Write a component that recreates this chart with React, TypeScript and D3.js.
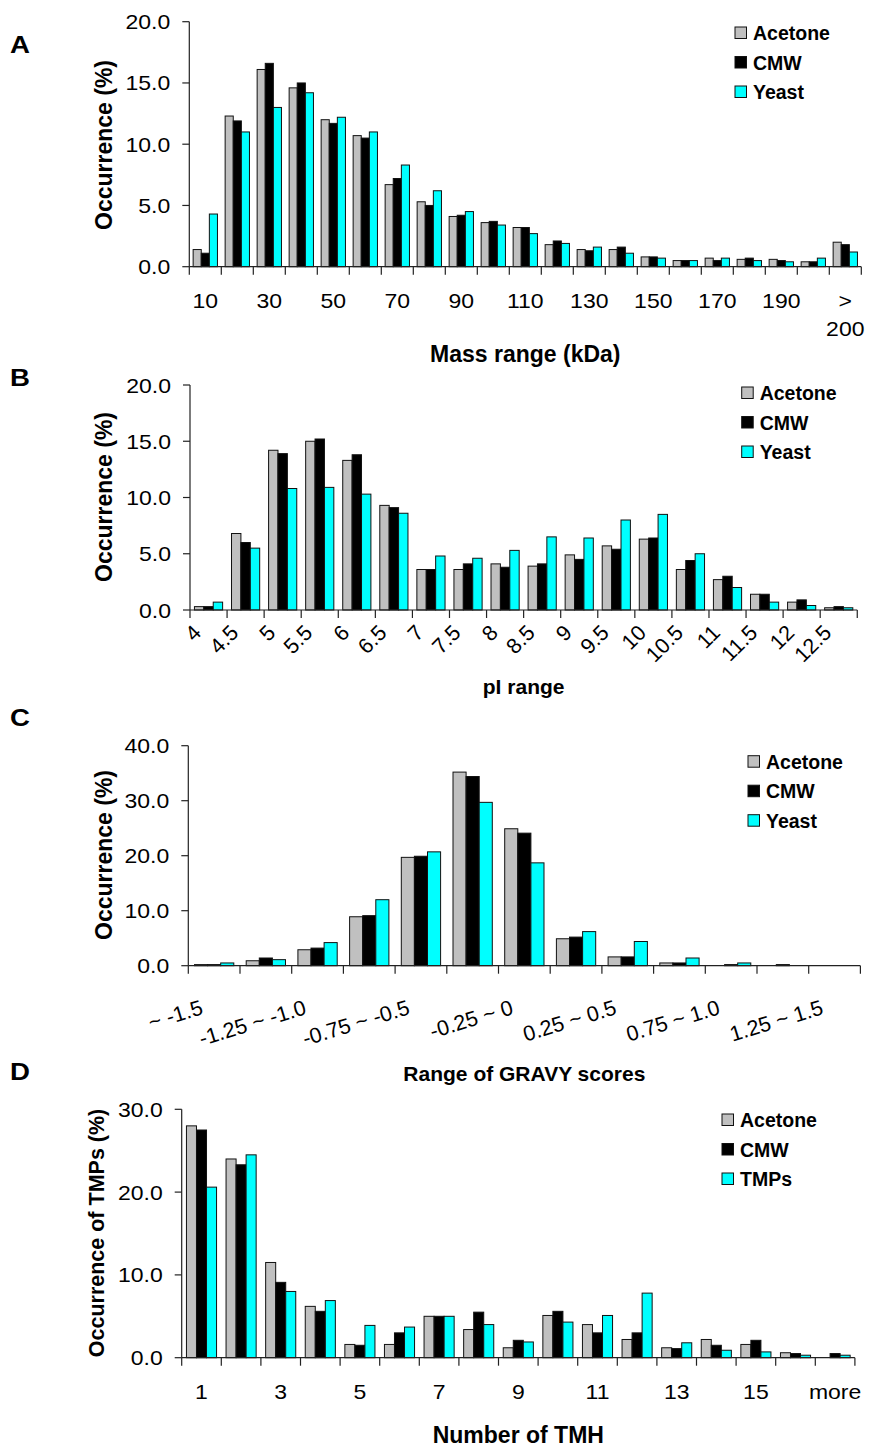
import React from "react";
import * as d3 from "d3";

// ---------- DATA ----------
const seriesNamesABC = ["Acetone", "CMW", "Yeast"];
const seriesNamesD = ["Acetone", "CMW", "TMPs"];

const massCategories = ["10","20","30","40","50","60","70","80","90","100","110","120","130","140","150","160","170","180","190","200","> 200"];
const massAcetone = [1.4,12.3,16.1,14.6,12.0,10.7,6.7,5.3,4.1,3.6,3.2,1.8,1.4,1.4,0.8,0.5,0.7,0.6,0.6,0.4,2.0];
const massCMW =     [1.1,11.9,16.6,15.0,11.7,10.5,7.2,5.0,4.2,3.7,3.2,2.1,1.3,1.6,0.8,0.5,0.5,0.7,0.5,0.4,1.8];
const massYeast =   [4.3,11.0,13.0,14.2,12.2,11.0,8.3,6.2,4.5,3.4,2.7,1.9,1.6,1.1,0.7,0.5,0.7,0.5,0.4,0.7,1.2];

const piCategories = ["4","4.5","5","5.5","6","6.5","7","7.5","8","8.5","9","9.5","10","10.5","11","11.5","12","12.5"];
const piAcetone = [0.3,6.8,14.2,15.0,13.3,9.3,3.6,3.6,4.1,3.9,4.9,5.7,6.3,3.6,2.7,1.4,0.7,0.2];
const piCMW =     [0.3,6.0,13.9,15.2,13.8,9.1,3.6,4.1,3.8,4.1,4.5,5.4,6.4,4.4,3.0,1.4,0.9,0.3];
const piYeast =   [0.7,5.5,10.8,10.9,10.3,8.6,4.8,4.6,5.3,6.5,6.4,8.0,8.5,5.0,2.0,0.7,0.4,0.2];

const gravyCategories = ["~ -1.5","-1.5 ~ -1.25","-1.25 ~ -1.0","-1.0 ~ -0.75","-0.75 ~ -0.5","-0.5 ~ -0.25","-0.25 ~ 0","0 ~ 0.25","0.25 ~ 0.5","0.5 ~ 0.75","0.75 ~ 1.0","1.0 ~ 1.25","1.25 ~ 1.5"];
const gravyAcetone = [0.2,0.9,2.9,8.9,19.7,35.2,24.9,4.9,1.6,0.5,0,0,0];
const gravyCMW =     [0.2,1.4,3.2,9.1,19.9,34.4,24.1,5.2,1.6,0.5,0.2,0.2,0];
const gravyYeast =   [0.5,1.1,4.2,12.0,20.7,29.7,18.7,6.2,4.4,1.4,0.5,0,0];

const tmhCategories = ["1","2","3","4","5","6","7","8","9","10","11","12","13","14","15","16","more"];
const tmhAcetone = [28.0,24.0,11.5,6.2,1.6,1.6,5.0,3.4,1.2,5.1,4.0,2.2,1.2,2.2,1.6,0.6,0];
const tmhCMW =     [27.5,23.3,9.1,5.6,1.5,3.0,5.0,5.5,2.1,5.6,3.0,3.0,1.1,1.5,2.1,0.5,0.5];
const tmhTMPs =    [20.6,24.5,8.0,6.9,3.9,3.7,5.0,4.0,1.9,4.3,5.1,7.8,1.8,0.9,0.7,0.3,0.3];

// ---------- STYLE ----------
const FONT = "'Liberation Sans', Arial, Helvetica, sans-serif";
const COLORS = ["#C0C0C0", "#000000", "#00FFFF"];
const AXIS = "#222";
const SX = 1.15; // horizontal stretch of the reference text

type Spec = {
  letter: string;
  letterY: number;
  categories: string[];
  series: number[][];
  names: string[];
  x0: number;
  band: number;
  yZero: number;
  yTop: number;
  yMax: number;
  yTickCount: number;
  yTitle: string;
  yTitleY: number;
  yTitleSize: number;
  xTitle: string;
  xTitleY: number;
  xTitleSize: number;
  every: number;
  angle: number;
  labelDx: number;
  labelDy: number;
  wrap: boolean;
  legendX: number;
  legendY: number;
};

const specs: Spec[] = [
  {
    letter: "A", letterY: 53, categories: massCategories, series: [massAcetone, massCMW, massYeast], names: seriesNamesABC,
    x0: 189.3, band: 32, yZero: 266.7, yTop: 21.7, yMax: 20, yTickCount: 4,
    yTitle: "Occurrence (%)", yTitleY: 145, yTitleSize: 23, xTitle: "Mass range (kDa)", xTitleY: 362, xTitleSize: 23,
    every: 2, angle: 0, labelDx: 0, labelDy: 41, wrap: true, legendX: 735, legendY: 33,
  },
  {
    letter: "B", letterY: 386, categories: piCategories, series: [piAcetone, piCMW, piYeast], names: seriesNamesABC,
    x0: 190, band: 37.07, yZero: 610, yTop: 385, yMax: 20, yTickCount: 4,
    yTitle: "Occurrence (%)", yTitleY: 497, yTitleSize: 23, xTitle: "pI range", xTitleY: 694, xTitleSize: 21,
    every: 1, angle: -45, labelDx: -6, labelDy: 24, wrap: false, legendX: 741.7, legendY: 393,
  },
  {
    letter: "C", letterY: 726, categories: gravyCategories, series: [gravyAcetone, gravyCMW, gravyYeast], names: seriesNamesABC,
    x0: 188.3, band: 51.7, yZero: 965.7, yTop: 745.7, yMax: 40, yTickCount: 4,
    yTitle: "Occurrence (%)", yTitleY: 855, yTitleSize: 23, xTitle: "Range of GRAVY scores", xTitleY: 1081, xTitleSize: 21,
    every: 2, angle: -17, labelDx: -10, labelDy: 48, wrap: false, legendX: 748, legendY: 761.7,
  },
  {
    letter: "D", letterY: 1080, categories: tmhCategories, series: [tmhAcetone, tmhCMW, tmhTMPs], names: seriesNamesD,
    x0: 181.7, band: 39.6, yZero: 1357.7, yTop: 1109.3, yMax: 30, yTickCount: 3,
    yTitle: "Occurrence of TMPs (%)", yTitleY: 1233, yTitleSize: 21.5, xTitle: "Number of TMH", xTitleY: 1443, xTitleSize: 23,
    every: 2, angle: 0, labelDx: 0, labelDy: 41, wrap: false, legendX: 722, legendY: 1120,
  },
];

function Panel({ p }: { p: Spec }) {
  const n = p.categories.length;
  const x = d3
    .scaleBand<string>()
    .domain(p.categories)
    .range([p.x0, p.x0 + p.band * n])
    .paddingInner(0.24)
    .paddingOuter(0.12);
  const xs = d3.scaleBand<number>().domain([0, 1, 2]).range([0, x.bandwidth()]);
  const y = d3.scaleLinear().domain([0, p.yMax]).range([p.yZero, p.yTop]);
  const yTicks = y.ticks(p.yTickCount);
  const fmt = d3.format(".1f");
  const step = x.step();
  const x1 = p.x0 + step * n;
  const boundaries = d3.range(n + 1).map((i) => p.x0 + i * step);
  const center = (c: string) => (x(c) as number) + x.bandwidth() / 2;

  return (
    <g>
      {/* panel letter */}
      <text x={0} y={0} transform={`translate(10,${p.letterY}) scale(1.2,1)`} fontFamily={FONT} fontWeight="bold" fontSize={23}>
        {p.letter}
      </text>

      {/* bars */}
      {p.series.map((vals, si) =>
        vals.map((v, i) => {
          const c = p.categories[i];
          const bx = (x(c) as number) + (xs(si) as number);
          const by = y(v);
          const h = p.yZero - by;
          if (v <= 0) return null;
          return (
            <rect
              key={`${si}-${i}`}
              x={bx}
              y={by}
              width={xs.bandwidth()}
              height={h}
              fill={COLORS[si]}
              stroke="#111"
              strokeWidth={1}
            />
          );
        })
      )}

      {/* y axis */}
      <line x1={p.x0} x2={p.x0} y1={p.yTop} y2={p.yZero} stroke={AXIS} strokeWidth={1.2} />
      {yTicks.map((t) => (
        <g key={t}>
          <line x1={p.x0 - 7} x2={p.x0} y1={y(t)} y2={y(t)} stroke={AXIS} strokeWidth={1.2} />
          <text
            transform={`translate(${p.x0 - 19},${y(t) + 7.5}) scale(${SX},1)`}
            textAnchor="end"
            fontFamily={FONT}
            fontSize={20}
          >
            {fmt(t)}
          </text>
        </g>
      ))}

      {/* x axis */}
      <line x1={p.x0} x2={x1} y1={p.yZero} y2={p.yZero} stroke={AXIS} strokeWidth={1.2} />
      {boundaries.map((b, i) => (
        <line key={i} x1={b} x2={b} y1={p.yZero} y2={p.yZero + 8} stroke={AXIS} strokeWidth={1.2} />
      ))}
      {p.categories.map((c, i) => {
        if (i % p.every !== 0) return null;
        const cx = center(c);
        if (p.angle === 0) {
          const lines = p.wrap ? c.split(" ") : [c];
          return (
            <text
              key={c}
              transform={`translate(${cx},${p.yZero + p.labelDy}) scale(${SX},1)`}
              textAnchor="middle"
              fontFamily={FONT}
              fontSize={20}
            >
              {lines.map((l, li) => (
                <tspan key={li} x={0} dy={li === 0 ? 0 : 28}>
                  {l}
                </tspan>
              ))}
            </text>
          );
        }
        return (
          <text
            key={c}
            transform={`translate(${cx + p.labelDx},${p.yZero + p.labelDy}) rotate(${p.angle})`}
            textAnchor="end"
            fontFamily={FONT}
            fontSize={21.5}
          >
            {c}
          </text>
        );
      })}

      {/* axis titles */}
      <text
        transform={`translate(${(p.x0 + x1) / 2},${p.xTitleY})`}
        textAnchor="middle"
        fontFamily={FONT}
        fontWeight="bold"
        fontSize={p.xTitleSize}
      >
        {p.xTitle}
      </text>
      <text
        transform={`translate(${p.yTitle.length > 16 ? 104 : 112},${p.yTitleY}) rotate(-90)`}
        textAnchor="middle"
        fontFamily={FONT}
        fontWeight="bold"
        fontSize={p.yTitleSize}
      >
        {p.yTitle}
      </text>

      {/* legend */}
      {p.names.map((nm, i) => {
        const cy = p.legendY + i * 29.5;
        return (
          <g key={nm}>
            <rect x={p.legendX} y={cy - 6} width={11.5} height={11.5} fill={COLORS[i]} stroke="#111" strokeWidth={1} />
            <text x={p.legendX + 18} y={cy + 7} fontFamily={FONT} fontWeight="bold" fontSize={19.5}>
              {nm}
            </text>
          </g>
        );
      })}
    </g>
  );
}

export default function App() {
  return (
    <svg
      width={869}
      height={1447}
      viewBox="0 0 869 1447"
      style={{ position: "absolute", left: 0, top: 0, background: "#fff" }}
    >
      <rect x={0} y={0} width={869} height={1447} fill="#fff" />
      {specs.map((p) => (
        <Panel key={p.letter} p={p} />
      ))}
    </svg>
  );
}
